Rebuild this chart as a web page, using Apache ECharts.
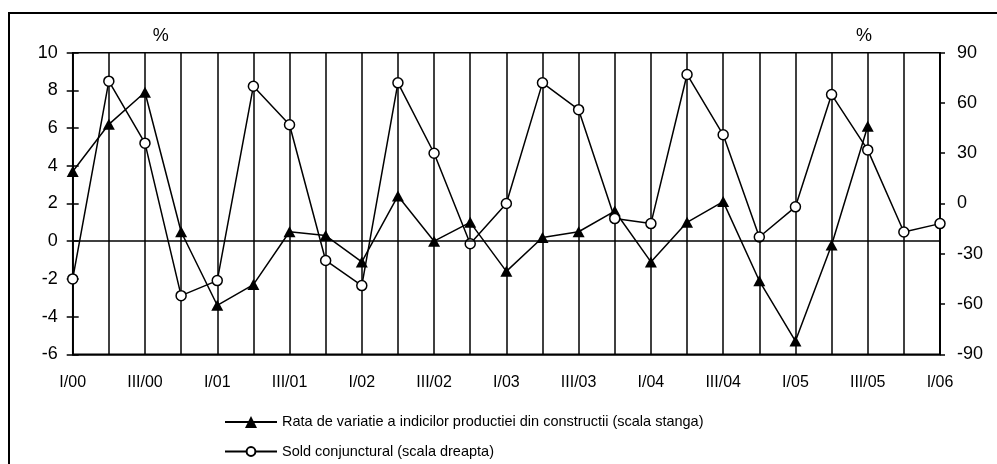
<!DOCTYPE html>
<html>
<head>
<meta charset="utf-8">
<script src="https://cdn.jsdelivr.net/npm/echarts@6/dist/echarts.min.js"></script>
<style>
  html, body { margin: 0; padding: 0; background: #fff; }
  #chart { width: 997px; height: 464px; }
</style>
</head>
<body>
<div id="chart"></div>
<script>
const categories = [
  "I/00", "II/00", "III/00", "IV/00",
  "I/01", "II/01", "III/01", "IV/01",
  "I/02", "II/02", "III/02", "IV/02",
  "I/03", "II/03", "III/03", "IV/03",
  "I/04", "II/04", "III/04", "IV/04",
  "I/05", "II/05", "III/05", "IV/05",
  "I/06",
];
// rata de variatie (scala stanga), %
const rataValues = [
  3.7, 6.2, 7.9, 0.5,
  -3.4, -2.3, 0.5, 0.3,
  -1.1, 2.4, 0.0, 1.0,
  -1.6, 0.2, 0.5, 1.6,
  -1.1, 1.0, 2.1, -2.1,
  -5.3, -0.2, 6.1, null,
  null,
];
// sold conjunctural (scala dreapta), %
const soldValues = [
  -45, 73, 36, -55,
  -46, 70, 47, -34,
  -49, 72, 30, -24,
  0, 72, 56, -9,
  -12, 77, 41, -20,
  -2, 65, 32, -17,
  -12,
];
const leftTicks = { min: -6, max: 10, step: 2 };
const rightTicks = { min: -90, max: 90, step: 30 };

const rataName = "Rata de variatie a indicilor productiei din constructii (scala stanga)";
const soldName = "Sold conjunctural (scala dreapta)";

const FONT = "'Liberation Sans', Arial, sans-serif";
const chart = echarts.init(document.getElementById("chart"));

const legendBase = {
  orient: "vertical",
  left: 224,
  padding: 0,
  itemWidth: 52,
  textStyle: { fontFamily: FONT, fontSize: 14.5, color: "#000" },
};

const option = {
  animation: false,
  backgroundColor: "#ffffff",
  textStyle: { fontFamily: FONT, color: "#000" },
  graphic: [
    {
      type: "rect",
      shape: { x: 9, y: 13, width: 1000, height: 480 },
      style: { fill: "none", stroke: "#000", lineWidth: 2 },
      silent: true,
    },
  ],
  grid: {
    left: 72.7,
    right: 57,
    top: 52.7,
    bottom: 109.7,
    show: true,
    borderColor: "#000",
    borderWidth: 1.5,
  },
  legend: [
    { ...legendBase, top: 414.5, itemHeight: 15, data: [rataName] },
    { ...legendBase, top: 444, itemHeight: 11, data: [soldName] },
  ],
  xAxis: {
    type: "category",
    data: categories,
    boundaryGap: false,
    axisLine: { onZero: false, lineStyle: { color: "#000", width: 1.5 } },
    axisTick: { show: false },
    axisLabel: {
      interval: 1,
      fontSize: 16,
      color: "#000",
      margin: 20,
    },
    splitLine: {
      show: true,
      interval: 0,
      lineStyle: { color: "#000", width: 1.5 },
    },
  },
  yAxis: [
    {
      type: "value",
      position: "left",
      name: "%",
      nameLocation: "end",
      nameGap: 8,
      nameTextStyle: { fontSize: 18, color: "#000", align: "center", padding: [0, 0, 0, 176] },
      min: leftTicks.min,
      max: leftTicks.max,
      interval: leftTicks.step,
      axisLine: { show: true, lineStyle: { color: "#000", width: 1.5 } },
      axisTick: { show: true, length: 6, lineStyle: { color: "#000", width: 1.5 } },
      axisLabel: { fontSize: 18, color: "#000", margin: 15 },
      splitLine: { show: false },
    },
    {
      type: "value",
      position: "right",
      name: "%",
      nameLocation: "end",
      nameGap: 8,
      nameTextStyle: { fontSize: 18, color: "#000", align: "center", padding: [0, 152, 0, 0] },
      min: rightTicks.min,
      max: rightTicks.max,
      interval: rightTicks.step,
      axisLine: { show: true, lineStyle: { color: "#000", width: 1.5 } },
      axisTick: { show: true, length: 5, lineStyle: { color: "#000", width: 1.5 } },
      axisLabel: { fontSize: 18, color: "#000", margin: 17 },
      splitLine: { show: false },
    },
    {
      // inner half of the cross ticks on the left scale
      type: "value",
      position: "left",
      min: leftTicks.min,
      max: leftTicks.max,
      interval: leftTicks.step,
      axisLine: { show: false },
      axisTick: { show: true, inside: true, length: 6, lineStyle: { color: "#000", width: 1.5 } },
      axisLabel: { show: false },
      splitLine: { show: false },
    },
  ],
  series: [
    {
      name: rataName,
      type: "line",
      yAxisIndex: 0,
      data: rataValues,
      symbol: "triangle",
      symbolSize: [12, 11],
      showAllSymbol: true,
      lineStyle: { color: "#000", width: 1.5 },
      itemStyle: { color: "#000", borderWidth: 0 },
      markLine: {
        silent: true,
        symbol: "none",
        label: { show: false },
        lineStyle: { color: "#000", width: 1.5, type: "solid" },
        data: [{ yAxis: 0 }],
      },
    },
    {
      name: soldName,
      type: "line",
      yAxisIndex: 1,
      data: soldValues,
      symbol: "circle",
      symbolSize: 10,
      showAllSymbol: true,
      lineStyle: { color: "#000", width: 1.5 },
      itemStyle: { color: "#fff", borderColor: "#000", borderWidth: 1.5 },
    },
  ],
};

chart.setOption(option);
</script>
</body>
</html>
